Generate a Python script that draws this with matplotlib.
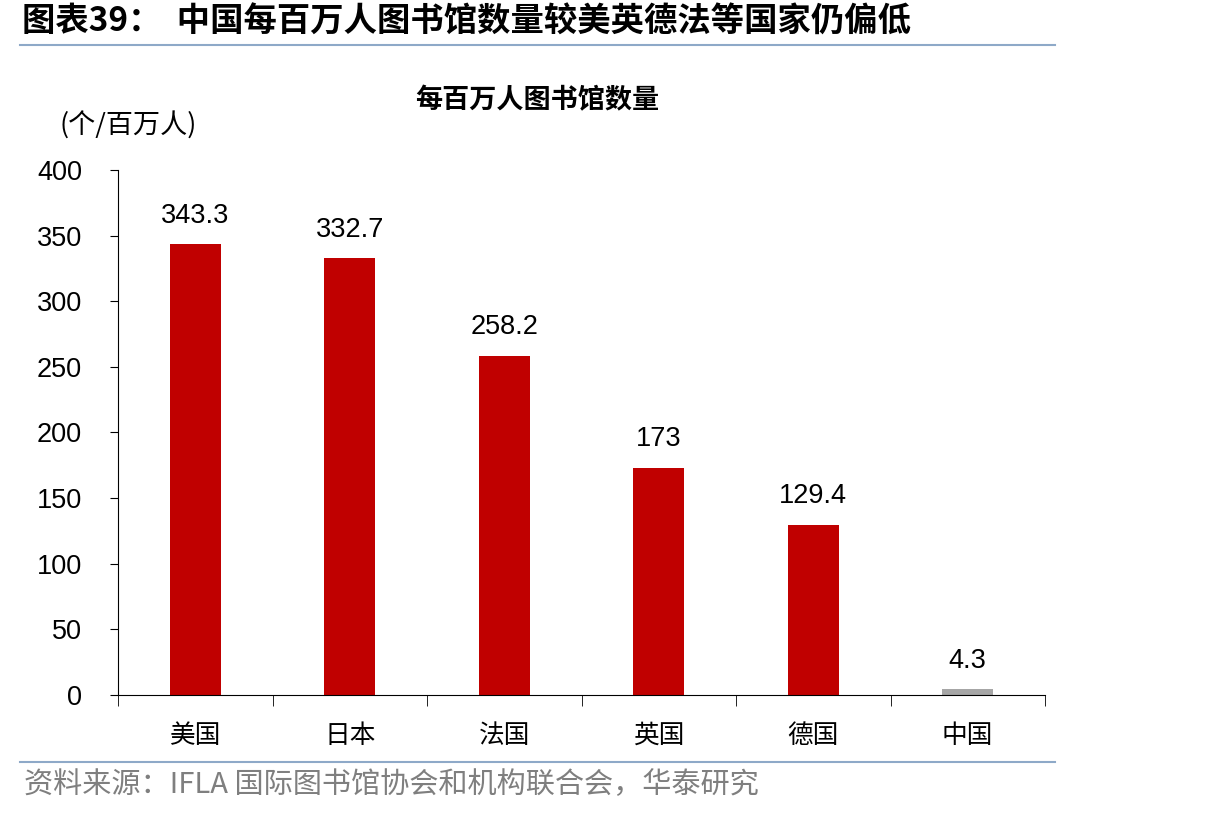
import matplotlib
matplotlib.use('Agg')
import matplotlib.pyplot as plt
import numpy as np

plt.rcParams['font.family'] = ['Liberation Sans', 'Noto Sans CJK SC', 'DejaVu Sans']

countries = ['美国', '日本', '法国', '英国', '德国', '中国']
values = [343.3, 332.7, 258.2, 173, 129.4, 4.3]
labels = ['343.3', '332.7', '258.2', '173', '129.4', '4.3']
colors = ['#C00000'] * 5 + ['#A6A6A6']

W, H = 1206, 816
fig = plt.figure(figsize=(W / 100, H / 100), dpi=100)
ax = fig.add_axes([118 / W, 1 - 695 / H, (1045 - 118) / W, (695 - 170) / H])

x = np.arange(len(countries))
ax.bar(x, values, width=0.33, color=colors)
for xi, v, lab in zip(x, values, labels):
    ax.text(xi, v + 12, lab, ha='center', va='bottom', fontsize=19.5)

ax.set_xlim(-0.5, len(countries) - 0.5)
ax.set_ylim(0, 400)
ax.set_yticks(range(0, 401, 50))
ax.tick_params(axis='y', labelsize=19.5, length=6, direction='out', pad=20)
ax.set_xticks(x)
ax.set_xticklabels(countries, fontsize=18.5, family=['Noto Sans CJK SC'])
ax.tick_params(axis='x', length=0, pad=20)
ax.set_xticks(np.arange(-0.5, len(countries), 1), minor=True)
ax.tick_params(axis='x', which='minor', length=8, direction='out')
for s in ['top', 'right']:
    ax.spines[s].set_visible(False)

cjk = ['Noto Sans CJK SC', 'DejaVu Sans']
fig.text(22 / W, 1 - 22 / H, '图表39：  中国每百万人图书馆数量较美英德法等国家仍偏低', fontsize=24,
         fontweight='bold', family=cjk, va='center', ha='left')
fig.add_artist(plt.Line2D([20 / W, 1055 / W], [1 - 45 / H] * 2, color='#8EA9C8', lw=1.5))
fig.text(537 / W, 1 - 100 / H, '每百万人图书馆数量', fontsize=19.5, fontweight='bold', family=cjk,
         ha='center', va='center')
fig.text(60 / W, 1 - 126 / H, '(个/百万人)', fontsize=19.5, family=cjk, ha='left', va='center')
fig.add_artist(plt.Line2D([20 / W, 1055 / W], [1 - 762 / H] * 2, color='#8EA9C8', lw=1.5))
fig.text(24 / W, 1 - 785 / H, '资料来源：IFLA 国际图书馆协会和机构联合会，华泰研究', fontsize=21,
         family=cjk, color='#7F7F7F', ha='left', va='center')

fig.savefig('out.png', dpi=100)
